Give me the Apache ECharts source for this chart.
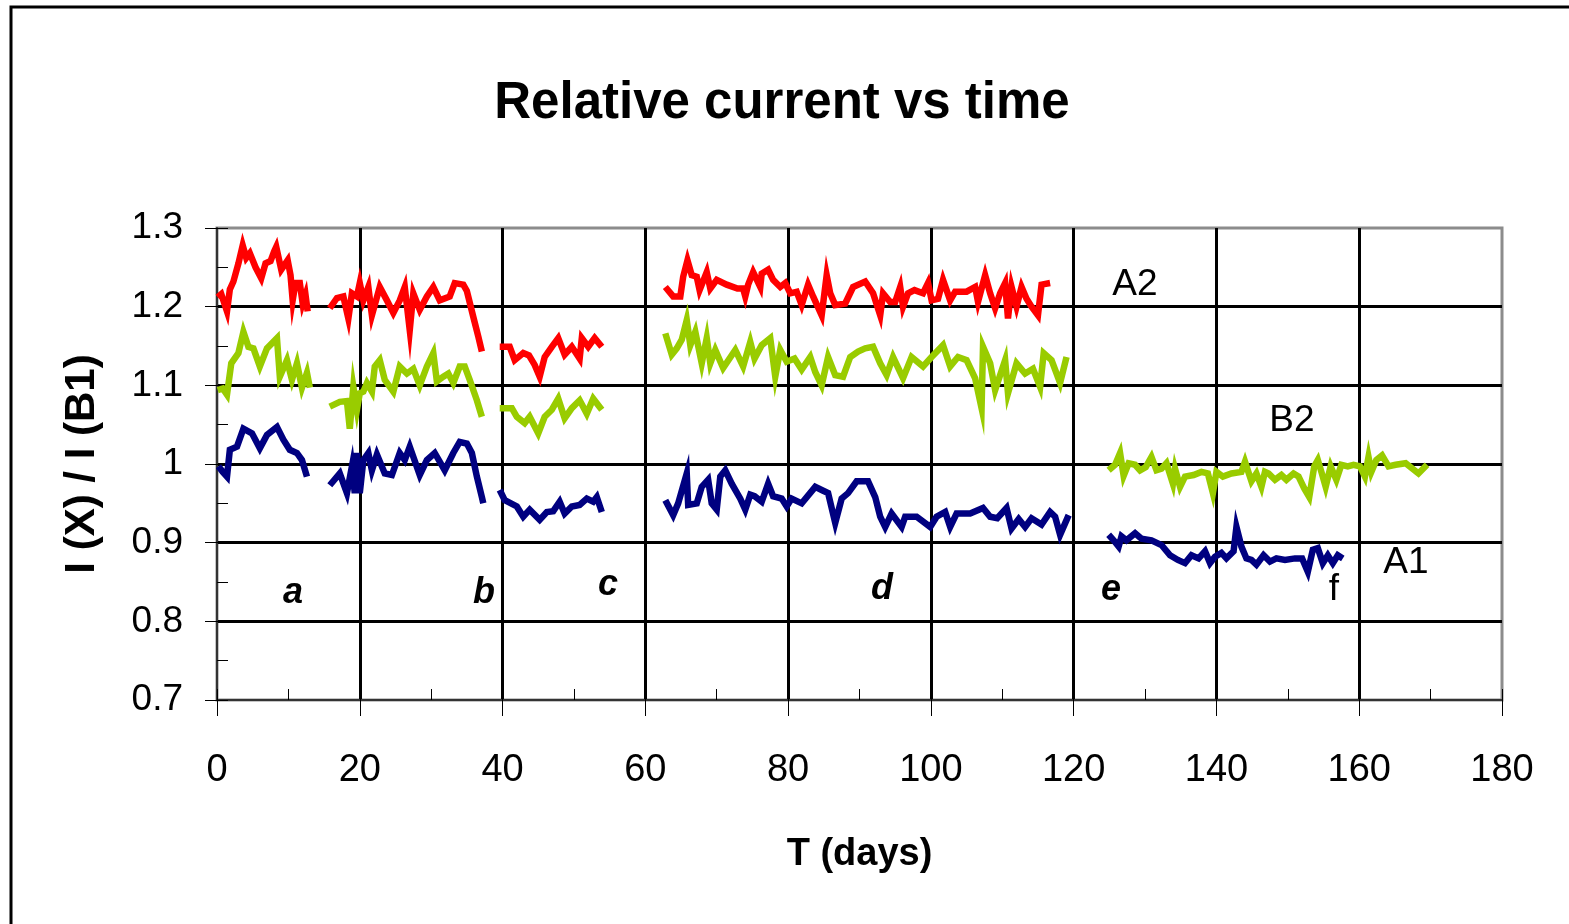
<html>
<head>
<meta charset="utf-8">
<title>Relative current vs time</title>
<script src="https://cdn.jsdelivr.net/npm/echarts@6/dist/echarts.min.js"></script>
<style>
html, body { margin:0; padding:0; background:#fff; }
#main { width:1569px; height:924px; }
</style>
</head>
<body>
<div id="main"></div>
<script type="text/javascript">
  var A2_a = [[0.1,1.212],[0.6,1.216],[1.0,1.205],[1.4,1.194],[1.8,1.222],[2.3,1.232],[3.0,1.255],[3.6,1.278],[4.1,1.262],[4.6,1.268],[5.4,1.25],[6.2,1.236],[6.8,1.255],[7.5,1.258],[8.0,1.27],[8.3,1.276],[9.0,1.247],[9.9,1.259],[10.3,1.24],[10.6,1.208],[11.0,1.23],[11.6,1.23],[12.0,1.204],[12.4,1.215],[12.7,1.194]];
  var A2_b = [[15.8,1.198],[16.8,1.211],[17.7,1.213],[18.4,1.185],[18.9,1.217],[19.6,1.213],[20.0,1.230],[20.5,1.208],[21.2,1.225],[21.7,1.189],[22.8,1.225],[23.8,1.208],[24.7,1.192],[25.6,1.208],[26.3,1.225],[27.0,1.170],[27.5,1.217],[28.4,1.196],[29.4,1.213],[30.3,1.225],[31.2,1.208],[32.6,1.213],[33.3,1.230],[34.5,1.228],[35.0,1.220],[35.9,1.187],[36.6,1.162],[37.1,1.143]];
  var A2_c = [[39.6,1.149],[41.0,1.149],[41.7,1.132],[42.9,1.141],[43.7,1.138],[44.5,1.126],[45.2,1.111],[45.9,1.136],[46.9,1.149],[47.8,1.160],[48.7,1.139],[49.7,1.149],[50.8,1.134],[51.1,1.160],[52.0,1.149],[52.9,1.160],[53.9,1.149]];
  var A2_d = [[62.8,1.225],[63.9,1.213],[64.9,1.213],[65.3,1.238],[65.9,1.259],[66.5,1.240],[67.2,1.238],[67.6,1.221],[68.6,1.244],[69.1,1.223],[70.0,1.234],[71.4,1.228],[72.9,1.223],[73.7,1.223],[74.0,1.213],[74.4,1.228],[75.1,1.244],[76.1,1.225],[76.3,1.242],[77.2,1.247],[77.9,1.234],[78.9,1.225],[79.6,1.230],[80.3,1.217],[81.2,1.219],[81.9,1.202],[82.8,1.228],[83.5,1.213],[84.7,1.189],[85.4,1.240],[85.9,1.217],[86.6,1.202],[88.0,1.204],[89.1,1.225],[90.8,1.232],[91.9,1.217],[92.9,1.189],[93.3,1.217],[94.3,1.206],[95.0,1.206],[95.7,1.225],[96.1,1.200],[96.8,1.217],[97.7,1.221],[98.9,1.217],[99.6,1.230],[100.1,1.208],[101.0,1.210],[101.7,1.234],[102.7,1.208],[103.4,1.219],[105.0,1.219],[106.2,1.225],[106.6,1.206],[107.6,1.240],[108.3,1.217],[109.0,1.198],[109.7,1.217],[110.4,1.230],[110.8,1.185],[111.3,1.225],[112.0,1.200],[112.7,1.225],[113.4,1.210],[114.1,1.200],[115.0,1.189],[115.5,1.228],[116.7,1.230]];

  var B2_a = [[0.1,1.094],[0.8,1.096],[1.4,1.088],[2.0,1.128],[3.0,1.141],[3.7,1.168],[4.4,1.149],[5.1,1.147],[6.0,1.124],[7.0,1.147],[8.4,1.160],[8.8,1.111],[9.8,1.132],[10.5,1.107],[11.2,1.128],[11.9,1.097],[12.6,1.116],[13.0,1.097]];
  var B2_b = [[15.8,1.073],[17.2,1.079],[18.2,1.080],[18.6,1.045],[19.1,1.098],[19.6,1.069],[20.0,1.090],[20.5,1.092],[21.0,1.103],[21.7,1.092],[22.1,1.124],[22.8,1.132],[23.5,1.107],[24.7,1.092],[25.6,1.124],[26.6,1.115],[27.5,1.121],[28.4,1.100],[29.4,1.124],[30.3,1.141],[30.8,1.105],[31.7,1.111],[32.4,1.115],[33.1,1.103],[34.0,1.124],[34.7,1.124],[35.4,1.107],[36.4,1.081],[37.1,1.060]];
  var B2_c = [[39.6,1.071],[41.3,1.071],[42.0,1.060],[43.1,1.052],[43.8,1.060],[45.0,1.039],[45.9,1.060],[46.9,1.069],[47.8,1.083],[48.7,1.058],[49.7,1.071],[50.8,1.081],[51.8,1.064],[52.7,1.083],[53.9,1.069]];
  var B2_d = [[62.8,1.166],[63.7,1.139],[64.4,1.147],[65.1,1.158],[65.8,1.183],[66.3,1.151],[67.0,1.168],[67.9,1.128],[68.6,1.160],[69.1,1.128],[69.8,1.145],[70.9,1.122],[72.6,1.145],[73.7,1.124],[74.7,1.155],[75.3,1.134],[76.3,1.151],[77.5,1.160],[78.2,1.111],[78.9,1.145],[79.8,1.130],[80.9,1.134],[81.9,1.120],[83.1,1.136],[83.8,1.117],[84.7,1.100],[85.6,1.136],[86.6,1.113],[87.7,1.111],[88.7,1.136],[89.8,1.143],[90.8,1.147],[91.9,1.149],[92.9,1.128],[93.8,1.113],[94.7,1.136],[96.1,1.109],[97.3,1.136],[98.9,1.124],[100.1,1.136],[101.7,1.151],[102.7,1.124],[103.8,1.136],[105.0,1.132],[106.2,1.109],[107.1,1.071],[107.3,1.149],[108.3,1.128],[109.0,1.094],[110.4,1.132],[110.8,1.090],[112.0,1.128],[113.2,1.115],[114.3,1.121],[115.3,1.098],[115.8,1.141],[116.9,1.132],[118.1,1.103],[119.0,1.136]];
  var B2_e = [[124.9,0.992],[125.8,0.999],[126.5,1.014],[127.0,0.985],[127.7,1.001],[128.6,0.999],[129.3,0.992],[130.1,0.996],[130.9,1.009],[131.6,0.992],[132.3,0.994],[133.0,1.001],[133.9,0.975],[134.2,0.994],[134.9,0.971],[135.6,0.984],[136.8,0.986],[137.9,0.990],[138.8,0.988],[139.5,0.963],[140.0,0.990],[140.9,0.984],[142.1,0.988],[143.5,0.990],[144.0,1.003],[144.9,0.978],[145.6,0.988],[146.3,0.971],[146.8,0.990],[147.3,0.988],[148.2,0.980],[149.1,0.986],[149.8,0.980],[150.8,0.988],[151.5,0.984],[152.3,0.969],[153.0,0.958],[153.7,0.997],[154.2,1.005],[154.7,0.990],[155.3,0.971],[156.0,0.997],[156.8,0.980],[157.5,0.999],[158.4,0.997],[159.2,0.999],[160.1,0.997],[160.8,0.984],[161.3,1.009],[161.7,0.990],[162.4,1.005],[163.2,1.011],[164.1,0.997],[165.1,0.999],[166.5,1.001],[168.3,0.988],[169.5,0.999]];

  var A1_a = [[0.2,0.997],[0.8,0.990],[1.4,0.984],[1.8,1.018],[2.8,1.022],[3.7,1.045],[4.9,1.039],[6.0,1.020],[7.0,1.037],[8.4,1.047],[9.3,1.031],[10.2,1.018],[11.2,1.014],[11.9,1.005],[12.6,0.984]];
  var A1_b = [[15.8,0.973],[17.2,0.988],[18.2,0.963],[18.9,0.997],[19.3,0.963],[19.6,1.014],[20.0,0.963],[20.5,1.005],[21.2,1.014],[21.7,0.992],[22.4,1.012],[23.5,0.988],[24.5,0.986],[25.6,1.014],[26.3,1.005],[27.0,1.022],[28.4,0.986],[29.4,1.005],[30.5,1.014],[31.9,0.992],[33.1,1.014],[34.0,1.028],[35.0,1.026],[35.7,1.014],[36.4,0.984],[37.1,0.958],[37.3,0.950]];
  var A1_c = [[39.6,0.967],[40.3,0.954],[42.0,0.946],[42.9,0.933],[43.8,0.942],[45.2,0.929],[46.2,0.939],[47.1,0.940],[48.0,0.952],[48.7,0.937],[49.7,0.946],[50.8,0.948],[51.8,0.956],[52.7,0.952],[53.2,0.958],[53.9,0.939]];
  var A1_d = [[62.8,0.954],[63.9,0.935],[64.6,0.950],[65.8,0.988],[66.0,0.948],[67.2,0.950],[67.9,0.971],[68.8,0.980],[69.3,0.950],[70.0,0.942],[70.5,0.984],[71.2,0.992],[72.1,0.975],[73.3,0.956],[74.0,0.942],[74.7,0.961],[75.3,0.959],[76.3,0.952],[77.2,0.975],[77.9,0.959],[79.1,0.956],[79.8,0.946],[80.5,0.956],[81.9,0.950],[83.8,0.971],[84.7,0.967],[85.6,0.963],[86.6,0.925],[87.5,0.956],[88.4,0.963],[89.6,0.978],[91.2,0.978],[92.2,0.958],[92.9,0.933],[93.6,0.920],[94.5,0.937],[95.9,0.920],[96.4,0.933],[98.0,0.933],[99.9,0.920],[100.8,0.933],[102.0,0.939],[102.7,0.920],[103.6,0.937],[105.5,0.937],[107.3,0.944],[108.3,0.933],[109.3,0.931],[110.6,0.944],[111.3,0.918],[112.3,0.930],[113.2,0.920],[114.1,0.931],[115.5,0.923],[116.7,0.939],[117.4,0.933],[118.1,0.910],[119.3,0.935]];
  var A1_e = [[124.9,0.910],[125.6,0.903],[126.3,0.895],[126.7,0.908],[127.4,0.903],[128.6,0.912],[129.5,0.905],[130.9,0.903],[132.3,0.897],[133.5,0.884],[134.6,0.878],[135.6,0.874],[136.5,0.884],[137.5,0.880],[138.4,0.889],[139.1,0.874],[139.8,0.882],[140.7,0.887],[141.4,0.880],[142.4,0.889],[142.8,0.920],[143.5,0.895],[144.2,0.880],[144.9,0.878],[145.6,0.872],[146.6,0.884],[147.5,0.876],[148.4,0.880],[149.6,0.878],[151.0,0.880],[152.0,0.880],[152.8,0.863],[153.5,0.891],[154.2,0.893],[154.9,0.874],[155.6,0.884],[156.3,0.874],[157.0,0.884],[157.7,0.880]];

  var seriesDefs = [
    ['A2', '#ff0000', [A2_a, A2_b, A2_c, A2_d]],
    ['B2', '#99cc00', [B2_a, B2_b, B2_c, B2_d, B2_e]],
    ['A1', '#000080', [A1_a, A1_b, A1_c, A1_d, A1_e]]
  ];

  // letters on the periods and curve names
  var notes = [
    ['a', 293, 593, 'bolditalic'], ['b', 484, 593, 'bolditalic'], ['c', 608, 585, 'bolditalic'],
    ['d', 882, 589, 'bolditalic'], ['e', 1111, 590, 'bolditalic'], ['f', 1334, 590, 'normal'],
    ['A2', 1135, 285, 'normal'], ['B2', 1292, 421, 'normal'], ['A1', 1406, 563, 'normal']
  ];

  var FONT = '"Liberation Sans", Arial, sans-serif';
  var chart = echarts.init(document.getElementById('main'));

  var series = [];
  seriesDefs.forEach(function (def) {
    def[2].forEach(function (seg) {
      series.push({
        name: def[0],
        type: 'line',
        xAxisIndex: 0,
        yAxisIndex: 0,
        showSymbol: false,
        symbol: 'none',
        lineStyle: { color: def[1], width: 6.5, join: 'miter' },
        itemStyle: { color: def[1] },
        data: seg
      });
    });
  });

  var graphics = [{
    type: 'rect',
    shape: { x: 11, y: 7, width: 1700, height: 1000 },
    style: { fill: null, stroke: '#000', lineWidth: 3 },
    silent: true
  }];
  notes.forEach(function (n) {
    var bi = n[3] === 'bolditalic';
    graphics.push({
      type: 'text',
      x: n[1], y: n[2],
      z: 10,
      style: {
        text: n[0],
        fontFamily: FONT,
        fontSize: bi ? 36 : 37,
        fontWeight: bi ? 'bold' : 'normal',
        fontStyle: bi ? 'italic' : 'normal',
        fill: '#000',
        align: 'center',
        verticalAlign: 'middle'
      }
    });
  });

  var option = {
    animation: false,
    backgroundColor: '#fff',
    title: {
      text: 'Relative current vs time',
      left: 777,
      top: 73,
      textAlign: 'center',
      textStyle: { fontFamily: FONT, fontSize: 51, fontWeight: 'bold', color: '#000' }
    },
    grid: {
      left: 217, right: 67, top: 228, bottom: 224,
      show: true, borderColor: '#8c8c8c', borderWidth: 3, backgroundColor: 'transparent'
    },
    xAxis: [{
      type: 'value', min: 0, max: 180, interval: 20,
      name: 'T (days)', nameLocation: 'middle', nameGap: 136,
      nameTextStyle: { fontFamily: FONT, fontSize: 38, fontWeight: 'bold', color: '#000' },
      axisLine: { onZero: false, lineStyle: { color: '#333', width: 2 } },
      axisTick: { length: 16, lineStyle: { color: '#000', width: 1 } },
      axisLabel: { fontFamily: FONT, fontSize: 38, color: '#000', margin: 52 },
      splitLine: { show: true, showMinLine: false, showMaxLine: false, lineStyle: { color: '#000', width: 3 } }
    }, {
      type: 'value', min: 0, max: 180, interval: 10, position: 'bottom',
      axisLine: { show: false },
      axisTick: { inside: true, length: 11, lineStyle: { color: '#000', width: 1 } },
      axisLabel: { show: false },
      splitLine: { show: false }
    }],
    yAxis: [{
      type: 'value', min: 0.7, max: 1.3, interval: 0.1,
      name: 'I (X) / I (B1)', nameLocation: 'middle', nameGap: 114,
      nameTextStyle: { fontFamily: FONT, fontSize: 42, fontWeight: 'bold', color: '#000' },
      axisLine: { onZero: false, lineStyle: { color: '#333', width: 2 } },
      axisTick: { length: 12, lineStyle: { color: '#000', width: 1 } },
      axisLabel: { fontFamily: FONT, fontSize: 37, color: '#000', margin: 34 },
      splitLine: { show: true, showMinLine: false, showMaxLine: false, lineStyle: { color: '#000', width: 3 } }
    }, {
      type: 'value', min: 0.7, max: 1.3, interval: 0.05, position: 'left',
      axisLine: { show: false },
      axisTick: { inside: true, length: 11, lineStyle: { color: '#000', width: 1 } },
      axisLabel: { show: false },
      splitLine: { show: false }
    }],
    graphic: graphics,
    series: series
  };

  chart.setOption(option);
</script>
</body>
</html>
